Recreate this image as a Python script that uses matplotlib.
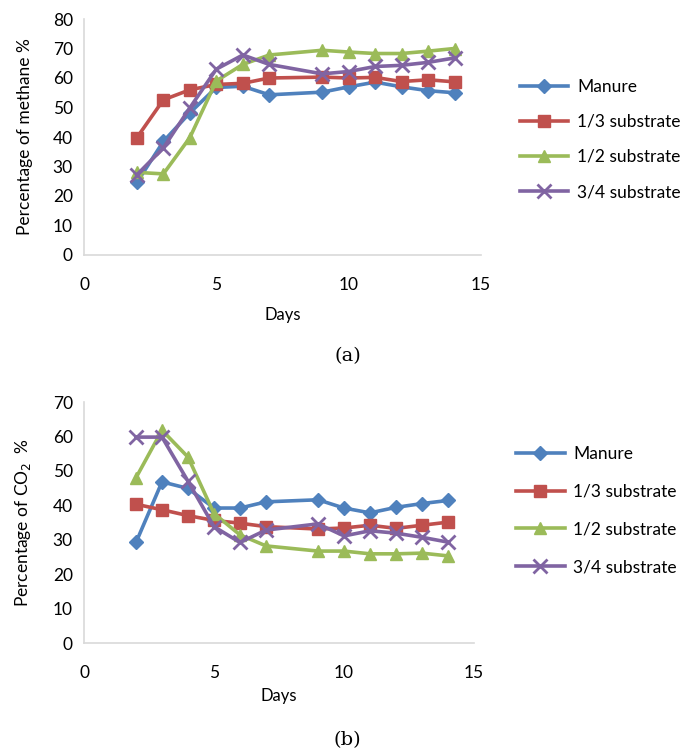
import numpy as np
import matplotlib
matplotlib.use('Agg')
import matplotlib.pyplot as plt

plt.rcParams['font.family'] = ['Lato', 'DejaVu Sans']

# 数据
days = [2, 3, 4, 5, 6, 7, 9, 10, 11, 12, 13, 14]
series_names = ['Manure', '1/3 substrate', '1/2 substrate', '3/4 substrate']

# 甲烷百分比 (a)
ch4_manure = [24.6, 38.5, 48.2, 56.8, 57.2, 54.3, 55.2, 57.0, 58.6, 57.0, 55.7, 55.0]
ch4_third = [39.8, 52.6, 56.0, 57.8, 58.2, 60.0, 60.3, 60.0, 60.2, 58.8, 59.4, 58.7]
ch4_half = [28.0, 27.5, 39.8, 59.0, 64.6, 67.8, 69.4, 68.8, 68.3, 68.3, 69.1, 70.0]
ch4_three_q = [27.2, 36.3, 49.9, 63.0, 67.8, 64.6, 61.4, 62.2, 63.9, 64.3, 65.3, 66.8]

# 二氧化碳百分比 (b)
co2_manure = [29.2, 46.8, 44.9, 39.2, 39.2, 41.0, 41.6, 39.2, 37.8, 39.4, 40.5, 41.4]
co2_third = [40.3, 38.7, 37.0, 35.6, 34.8, 33.8, 33.1, 33.4, 34.2, 33.3, 34.2, 35.1]
co2_half = [48.0, 61.8, 54.0, 37.6, 31.4, 28.2, 26.7, 26.7, 25.9, 25.9, 26.1, 25.3]
co2_three_q = [59.8, 59.8, 47.0, 33.8, 29.2, 32.8, 34.6, 31.1, 32.6, 31.9, 30.7, 29.3]

colors = ['#4F81BD', '#C0504D', '#9BBB59', '#8064A2']
markers = ['D', 's', '^', 'x']
msizes = [7, 9, 9, 10]

fig = plt.figure(figsize=(6.94, 7.53), dpi=100)
ax1 = fig.add_axes([84 / 694, 1 - 255 / 753, 397 / 694, 236 / 753])
ax2 = fig.add_axes([84 / 694, 1 - 643 / 753, 390 / 694, 241 / 753])


def draw(ax, data, ymax, ylabel, legend_y, legend_x, spacing, xlabelpad):
    for vals, c, m, ms, name in zip(data, colors, markers, msizes, series_names):
        ax.plot(days, vals, color=c, marker=m, ms=ms, lw=2.6,
                mew=2 if m == 'x' else 1, mec=c, label=name)
    ax.set_xlim(0, 15)
    ax.set_ylim(0, ymax)
    ax.set_xticks([0, 5, 10, 15])
    ax.set_yticks(np.arange(0, ymax + 1, 10))
    for s in ['top', 'right']:
        ax.spines[s].set_visible(False)
    for s in ['left', 'bottom']:
        ax.spines[s].set_color('#D9D9D9')
        ax.spines[s].set_linewidth(1.2)
    ax.tick_params(length=0, labelsize=12.5)
    ax.tick_params(axis='x', pad=16)
    ax.tick_params(axis='y', pad=8)
    ax.set_xlabel('Days', fontsize=12, labelpad=xlabelpad)
    ax.set_ylabel(ylabel, fontsize=12.5, labelpad=14)
    ax.legend(loc='center left', bbox_to_anchor=(legend_x, legend_y),
              frameon=False, fontsize=12.5, handlelength=2.8,
              labelspacing=spacing, borderaxespad=0, handletextpad=0.5)


draw(ax1, [ch4_manure, ch4_third, ch4_half, ch4_three_q], 80,
     'Percentage of methane %', 0.49, 1.08, 1.1, 10)
draw(ax2, [co2_manure, co2_third, co2_half, co2_three_q], 70,
     'Percentage of CO$_2$  %', 0.55, 1.09, 1.25, 5)

fig.text(348 / 694, 1 - 356 / 753, '(a)', family='DejaVu Serif',
         fontsize=14, ha='center', va='center')
fig.text(347 / 694, 1 - 740 / 753, '(b)', family='DejaVu Serif',
         fontsize=14, ha='center', va='center')

plt.savefig('out.png')
